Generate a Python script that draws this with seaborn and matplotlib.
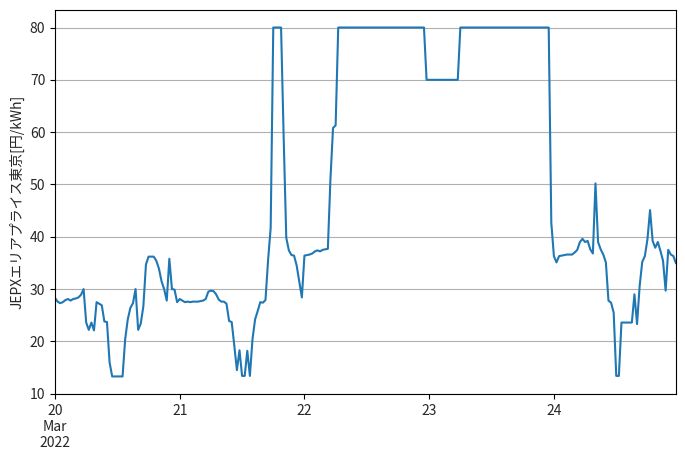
import pandas as pd
import matplotlib
matplotlib.use("Agg")
import matplotlib.pyplot as plt
import matplotlib.dates as mdates
import matplotlib.ticker as mticker
import seaborn as sns

# JEPX area price, Tokyo, 30-minute slots, 2022-03-20 .. 2022-03-24
start = "2022-03-20 00:00"
ylabel = "JEPXエリアプライス東京[円/kWh]"

mar20 = [28.3, 27.6, 27.3, 27.5, 27.9, 28.1, 27.8, 28.1, 28.2, 28.4, 28.9, 30.0,
         23.6, 22.2, 23.6, 22.1, 27.5, 27.2, 26.9, 23.8, 23.7, 16.0, 13.3, 13.3,
         13.3, 13.3, 13.3, 20.4, 24.2, 26.4, 27.3, 30.0, 22.2, 23.4, 26.7, 34.7,
         36.2, 36.2, 36.2, 35.4, 33.9, 31.5, 30.0, 27.8, 35.8, 30.0, 29.9, 27.5]
mar21 = [28.1, 27.8, 27.5, 27.6, 27.5, 27.6, 27.6, 27.6, 27.7, 27.8, 28.1, 29.5,
         29.7, 29.6, 29.0, 28.0, 27.6, 27.6, 27.2, 23.9, 23.7, 19.2, 14.5, 18.3,
         13.4, 13.4, 18.2, 13.4, 20.4, 24.2, 25.8, 27.5, 27.4, 27.9, 35.5, 41.7,
         80.0, 80.0, 80.0, 80.0, 59.0, 39.8, 37.4, 36.5, 36.4, 34.5, 31.5, 28.4]
mar22 = [36.4, 36.5, 36.6, 36.8, 37.2, 37.4, 37.2, 37.5, 37.6, 37.7, 51.0, 60.8,
         61.3, 80.0, 80.0, 80.0, 80.0, 80.0, 80.0, 80.0, 80.0, 80.0, 80.0, 80.0,
         80.0, 80.0, 80.0, 80.0, 80.0, 80.0, 80.0, 80.0, 80.0, 80.0, 80.0, 80.0,
         80.0, 80.0, 80.0, 80.0, 80.0, 80.0, 80.0, 80.0, 80.0, 80.0, 80.0, 70.0]
mar23 = [70.0, 70.0, 70.0, 70.0, 70.0, 70.0, 70.0, 70.0, 70.0, 70.0, 70.0, 70.0,
         80.0, 80.0, 80.0, 80.0, 80.0, 80.0, 80.0, 80.0, 80.0, 80.0, 80.0, 80.0,
         80.0, 80.0, 80.0, 80.0, 80.0, 80.0, 80.0, 80.0, 80.0, 80.0, 80.0, 80.0,
         80.0, 80.0, 80.0, 80.0, 80.0, 80.0, 80.0, 80.0, 80.0, 80.0, 80.0, 42.7]
mar24 = [36.3, 35.1, 36.3, 36.4, 36.5, 36.6, 36.6, 36.6, 37.0, 37.5, 39.0, 39.6,
         39.0, 39.2, 37.6, 36.8, 50.2, 39.0, 37.6, 36.6, 35.1, 27.8, 27.4, 25.5,
         13.4, 13.4, 23.6, 23.6, 23.6, 23.6, 23.6, 29.0, 23.3, 30.6, 35.2, 36.3,
         39.5, 45.1, 39.2, 37.9, 39.0, 37.3, 35.4, 29.7, 37.5, 36.6, 36.3, 34.9]

prices = mar20 + mar21 + mar22 + mar23 + mar24
times = pd.date_range(start, periods=len(prices), freq="30min")
df = pd.DataFrame({"time": times, "price": prices})

sns.set_style("ticks")
plt.rcParams["font.family"] = ["Noto Sans CJK JP", "DejaVu Sans"]

fig, ax = plt.subplots(figsize=(6.85, 4.58), dpi=100)
fig.subplots_adjust(left=0.0803, right=0.9869, top=0.978, bottom=0.14)

sns.lineplot(data=df, x="time", y="price", ax=ax, color="#1f77b4", linewidth=1.5)

ax.set_xlim(times[0], times[-1])
ax.xaxis.set_major_locator(mdates.DayLocator())


def day_label(x, pos):
    d = mdates.num2date(x)
    if pos == 0:
        return f"{d.day}\n{d:%b}\n{d.year}"
    return f"{d.day}"


ax.xaxis.set_major_formatter(mticker.FuncFormatter(day_label))
ax.yaxis.grid(True, color="#b0b0b0", linewidth=0.8)
ax.xaxis.grid(False)
ax.set_xlabel("")
ax.set_ylabel(ylabel, fontsize=10)
ax.tick_params(labelsize=10, color="black", length=3.5, width=0.8)
for s in ax.spines.values():
    s.set_visible(True)
    s.set_color("black")
    s.set_linewidth(0.8)

fig.savefig("out.png", dpi=100)
